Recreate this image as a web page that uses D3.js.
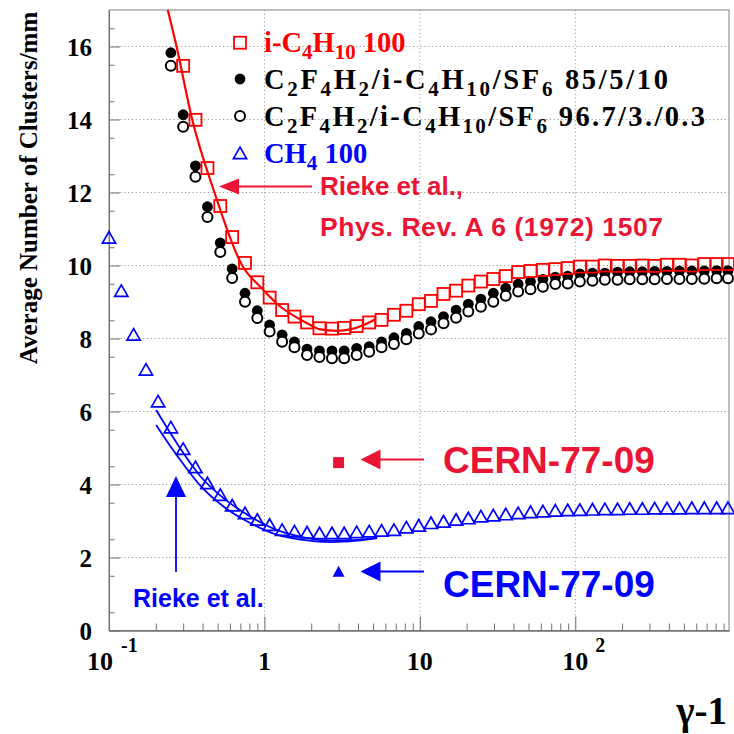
<!DOCTYPE html>
<html lang="en">
  <head>
    <meta charset="UTF-8" />
    <script src="https://d3js.org/d3.v7.min.js"></script>
    <title>Clusters per mm</title>
    <style>
      body { margin: 0; background: #fff; }
      svg { display: block; }
      .serif { font-family: "Liberation Serif", "DejaVu Serif", serif; font-weight: bold; }
      .sans { font-family: "Liberation Sans", Arial, sans-serif; font-weight: bold; }
    </style>
  </head>
  <body>
    <svg width="734" height="734"></svg>
    <script>
      // gamma-1 values of the measured points (same grid for every gas)
      var gammaM1 = [0.10, 0.12, 0.144, 0.173, 0.207,
        0.25, 0.30, 0.36, 0.43, 0.52, 0.62, 0.75, 0.90, 1.08, 1.30,
        1.56, 1.88, 2.26, 2.72, 3.26, 3.92, 4.72, 5.67, 6.81, 8.19,
        9.84, 11.8, 14.2, 17.1, 20.5, 24.7, 29.7, 35.7, 42.9, 51.5,
        61.9, 74.4, 89.4, 107, 129, 155, 187, 224, 270, 324,
        389, 468, 562, 676, 812, 960];

      var iC4H10 = [null, null, null, null, null,
        null, 15.47, 13.99, 12.67, 11.63, 10.78, 10.07, 9.54, 9.12, 8.78,
        8.60, 8.44, 8.28, 8.27, 8.29, 8.34, 8.44, 8.51, 8.65, 8.76,
        8.94, 9.03, 9.22, 9.31, 9.45, 9.56, 9.63, 9.71, 9.82, 9.85,
        9.88, 9.90, 9.93, 9.97, 9.97, 10.0, 9.99, 9.99, 10.0, 9.99,
        10.02, 10.02, 10.0, 10.04, 10.04, 10.04];

      var mix85 = [null, null, null, null, null,
        15.83, 14.13, 12.73, 11.61, 10.62, 9.91, 9.24, 8.76, 8.37, 8.10,
        7.91, 7.71, 7.66, 7.66, 7.66, 7.73, 7.78, 7.91, 8.02, 8.14,
        8.33, 8.46, 8.60, 8.78, 8.94, 9.08, 9.24, 9.38, 9.49, 9.56,
        9.62, 9.68, 9.71, 9.77, 9.79, 9.79, 9.82, 9.83, 9.83, 9.84,
        9.84, 9.85, 9.85, 9.85, 9.86, 9.86];

      var mix96 = [null, null, null, null, null,
        15.47, 13.80, 12.43, 11.33, 10.37, 9.66, 9.01, 8.56, 8.19, 7.91,
        7.76, 7.55, 7.49, 7.46, 7.46, 7.55, 7.64, 7.76, 7.85, 7.98,
        8.14, 8.25, 8.42, 8.57, 8.74, 8.87, 9.01, 9.17, 9.29, 9.35,
        9.42, 9.49, 9.51, 9.56, 9.58, 9.61, 9.61, 9.62, 9.62, 9.62,
        9.63, 9.63, 9.63, 9.64, 9.65, 9.65];

      var ch4 = [10.76, 9.30, 8.10, 7.14, 6.27,
        5.56, 4.97, 4.47, 4.03, 3.71, 3.42, 3.21, 3.03, 2.89, 2.75,
        2.71, 2.68, 2.66, 2.66, 2.66, 2.69, 2.71, 2.73, 2.75, 2.82,
        2.87, 2.94, 2.98, 3.03, 3.07, 3.12, 3.15, 3.18, 3.21, 3.24,
        3.26, 3.28, 3.29, 3.30, 3.31, 3.32, 3.32, 3.33, 3.33, 3.34,
        3.34, 3.34, 3.35, 3.35, 3.35, 3.35];

      // Rieke et al. calculations
      var riekeIsoX = [0.239, 0.272, 0.343, 0.477, 0.719, 0.943, 1.27, 1.58, 1.88, 2.29, 2.93, 3.57, 4.35, 5.17];
      var riekeIsoY = [17.0, 16.0, 14.0, 12.0, 10.0, 9.41, 8.87, 8.60, 8.42, 8.25, 8.21, 8.25, 8.37, 8.53];
      var riekeCh4X = [0.201, 0.249, 0.303, 0.388, 0.548, 0.813, 1.21, 1.79, 2.66, 3.95, 5.31];
      var riekeCh4Hi = [6.04, 5.40, 4.84, 4.22, 3.62, 3.12, 2.75, 2.55, 2.46, 2.48, 2.55];
      var riekeCh4Lo = [5.63, 5.04, 4.54, 3.96, 3.39, 2.94, 2.62, 2.48, 2.42, 2.46, 2.53];

      // CERN-77-09 points
      var cernX = 3.0;
      var cernIso = 4.6;
      var cernCh4 = 1.61;

      var yTicks = [0, 2, 4, 6, 8, 10, 12, 14, 16];
      var xMajor = [0.1, 1, 10, 100];

      var svg = d3.select("svg"),
        margin = { top: 10, right: 5, bottom: 103.5, left: 109 },
        width = +svg.attr("width") - margin.left - margin.right,
        height = +svg.attr("height") - margin.top - margin.bottom;

      var x = d3.scaleLog().domain([0.1, 975]).range([margin.left, margin.left + width]);
      var y = d3.scaleLinear().domain([0, 17]).range([margin.top + height, margin.top]);

      var RED = "#ff0000", BLUE = "#0000ff", ANN_RED = "#ea1535";

      // grid
      var grid = svg.append("g").attr("stroke", "#9a9a9a").attr("stroke-dasharray", "1.2,2.6").attr("stroke-width", 1);
      grid.selectAll("line.h").data(yTicks.slice(1)).enter().append("line")
        .attr("x1", margin.left).attr("x2", margin.left + width)
        .attr("y1", function (d) { return y(d); }).attr("y2", function (d) { return y(d); });
      grid.selectAll("line.v").data(xMajor.slice(1)).enter().append("line")
        .attr("y1", margin.top).attr("y2", margin.top + height)
        .attr("x1", function (d) { return x(d); }).attr("x2", function (d) { return x(d); });

      // frame
      svg.append("rect")
        .attr("x", margin.left).attr("y", margin.top)
        .attr("width", width).attr("height", height)
        .attr("fill", "none").attr("stroke", "#808080").attr("stroke-width", 1);

      // y axis (ticks inside)
      var yAxis = svg.append("g").attr("transform", "translate(" + margin.left + ",0)")
        .call(d3.axisLeft(y).tickValues(yTicks).tickSizeInner(-11).tickSizeOuter(0).tickPadding(17));
      yAxis.selectAll("text").attr("class", "serif").attr("font-size", 25).attr("fill", "#000").attr("dy", "0.36em");
      svg.append("g").attr("transform", "translate(" + margin.left + ",0)")
        .call(d3.axisLeft(y).tickValues(d3.range(0.5, 17.01, 1)).tickSizeInner(-5.5).tickSizeOuter(0).tickFormat(""));
      svg.selectAll(".domain").attr("stroke", "#707070");
      svg.selectAll(".tick line").attr("stroke", "#707070");

      // x axis (log, ticks inside)
      var minor = x.ticks().filter(function (d) { return xMajor.indexOf(d) < 0; });
      svg.append("g").attr("transform", "translate(0," + (margin.top + height) + ")")
        .call(d3.axisBottom(x).tickValues(xMajor).tickSizeInner(-14).tickSizeOuter(0).tickFormat(""))
        .selectAll("line, path").attr("stroke", "#707070");
      svg.append("g").attr("transform", "translate(0," + (margin.top + height) + ")")
        .call(d3.axisBottom(x).tickValues(minor).tickSizeInner(-7).tickSizeOuter(0).tickFormat(""))
        .selectAll("line, path").attr("stroke", "#707070");

      // x tick labels
      var xl = svg.append("g").attr("class", "serif").attr("font-size", 26).attr("fill", "#000");
      xl.append("text").attr("x", x(0.1) - 9).attr("y", 670).attr("text-anchor", "middle").text("10");
      xl.append("text").attr("x", x(0.1) + 12).attr("y", 652).attr("font-size", 20).attr("text-anchor", "start").text("-1");
      xl.append("text").attr("x", x(1)).attr("y", 670).attr("text-anchor", "middle").text("1");
      xl.append("text").attr("x", x(10)).attr("y", 670).attr("text-anchor", "middle").text("10");
      xl.append("text").attr("x", x(100)).attr("y", 670).attr("text-anchor", "middle").text("10");
      xl.append("text").attr("x", x(100) + 20).attr("y", 652).attr("font-size", 20).attr("text-anchor", "start").text("2");

      // axis titles
      svg.append("text").attr("class", "serif").attr("font-size", 25)
        .attr("transform", "translate(37,188) rotate(-90)")
        .attr("text-anchor", "middle").text("Average Number of Clusters/mm");
      svg.append("text").attr("class", "serif").attr("font-size", 39)
        .attr("x", 727).attr("y", 724).attr("text-anchor", "end").text("γ-1");

      function pts(ys) {
        return gammaM1.map(function (g, i) { return { x: g, y: ys[i] }; })
          .filter(function (d) { return d.y !== null; });
      }

      var line = d3.line()
        .x(function (d) { return x(d[0]); })
        .y(function (d) { return y(d[1]); })
        .curve(d3.curveMonotoneX);

      // CH4 triangles
      var tri = "M0,-6.2L6.6,5.3L-6.6,5.3Z";
      svg.append("g").selectAll("path").data(pts(ch4)).enter().append("path")
        .attr("d", tri)
        .attr("transform", function (d) { return "translate(" + x(d.x) + "," + y(d.y) + ")"; })
        .attr("fill", "none").attr("stroke", BLUE).attr("stroke-width", 1.7);

      // mixture 85/5/10 (filled circles)
      svg.append("g").selectAll("circle").data(pts(mix85)).enter().append("circle")
        .attr("cx", function (d) { return x(d.x); })
        .attr("cy", function (d) { return y(d.y); })
        .attr("r", 5.4).attr("fill", "#000");

      // mixture 96.7/3/0.3 (open circles)
      svg.append("g").selectAll("circle").data(pts(mix96)).enter().append("circle")
        .attr("cx", function (d) { return x(d.x); })
        .attr("cy", function (d) { return y(d.y); })
        .attr("r", 5.0).attr("fill", "#fff").attr("stroke", "#000").attr("stroke-width", 2);

      // i-C4H10 open squares
      svg.append("g").selectAll("rect").data(pts(iC4H10)).enter().append("rect")
        .attr("x", function (d) { return x(d.x) - 6; })
        .attr("y", function (d) { return y(d.y) - 6; })
        .attr("width", 12).attr("height", 12)
        .attr("fill", "none").attr("stroke", RED).attr("stroke-width", 1.8);

      // Rieke curves
      svg.append("path").datum(d3.zip(riekeIsoX, riekeIsoY)).attr("d", line)
        .attr("fill", "none").attr("stroke", RED).attr("stroke-width", 2.2);
      svg.append("path").datum(d3.zip(riekeCh4X, riekeCh4Hi)).attr("d", line)
        .attr("fill", "none").attr("stroke", BLUE).attr("stroke-width", 1.8);
      svg.append("path").datum(d3.zip(riekeCh4X, riekeCh4Lo)).attr("d", line)
        .attr("fill", "none").attr("stroke", BLUE).attr("stroke-width", 1.8);

      // CERN-77-09 points
      svg.append("rect")
        .attr("x", x(cernX) - 5.5).attr("y", y(cernIso) - 5.5)
        .attr("width", 11).attr("height", 11).attr("fill", ANN_RED);
      svg.append("path").attr("d", "M0,-6L6,5L-6,5Z")
        .attr("transform", "translate(" + x(cernX) + "," + y(cernCh4) + ")")
        .attr("fill", BLUE);

      // annotation arrows
      function hArrow(x1, x2, yy, col, len, hw) {
        svg.append("line").attr("x1", x1 + len - 2).attr("x2", x2).attr("y1", yy).attr("y2", yy)
          .attr("stroke", col).attr("stroke-width", 1.8);
        svg.append("path")
          .attr("d", "M" + x1 + "," + yy + "L" + (x1 + len) + "," + (yy - hw) + "L" + (x1 + len) + "," + (yy + hw) + "Z")
          .attr("fill", col);
      }
      hArrow(219, 312, 186.5, ANN_RED, 20, 8);
      hArrow(360.5, 424, 459.5, ANN_RED, 20, 10);
      hArrow(360.5, 424, 571.5, BLUE, 20, 10);
      svg.append("line").attr("x1", 176).attr("x2", 176).attr("y1", 494).attr("y2", 572)
        .attr("stroke", BLUE).attr("stroke-width", 1.8);
      svg.append("path").attr("d", "M176,476L186,497L166,497Z").attr("fill", BLUE);

      // annotation texts
      svg.append("text").attr("class", "sans").attr("font-size", 26).attr("fill", ANN_RED)
        .attr("x", 320).attr("y", 195).text("Rieke et al.,");
      svg.append("text").attr("class", "sans").attr("font-size", 26.5).attr("fill", ANN_RED)
        .attr("x", 320).attr("y", 236).attr("textLength", 343).attr("lengthAdjust", "spacing")
        .text("Phys. Rev. A 6 (1972) 1507");
      svg.append("text").attr("class", "sans").attr("font-size", 25).attr("fill", BLUE)
        .attr("x", 133).attr("y", 607).text("Rieke et al.");
      svg.append("text").attr("class", "sans").attr("font-size", 37).attr("fill", ANN_RED)
        .attr("x", 443).attr("y", 473).text("CERN-77-09");
      svg.append("text").attr("class", "sans").attr("font-size", 37).attr("fill", BLUE)
        .attr("x", 443).attr("y", 597).text("CERN-77-09");

      // legend
      var legend = svg.append("g");
      var rowY = [42.7, 79, 116, 153.3];
      var rowLen = [null, 404, 441, null];
      legend.append("rect").attr("x", 240 - 6).attr("y", rowY[0] - 6).attr("width", 12).attr("height", 12)
        .attr("fill", "none").attr("stroke", RED).attr("stroke-width", 1.8);
      legend.append("circle").attr("cx", 240).attr("cy", rowY[1]).attr("r", 5.4).attr("fill", "#000");
      legend.append("circle").attr("cx", 240).attr("cy", rowY[2]).attr("r", 5.0)
        .attr("fill", "#fff").attr("stroke", "#000").attr("stroke-width", 2);
      legend.append("path").attr("d", tri).attr("transform", "translate(240," + rowY[3] + ")")
        .attr("fill", "none").attr("stroke", BLUE).attr("stroke-width", 1.7);

      // text pieces: [string, isSubscript]
      var entries = [
        { col: RED, parts: [["i-C", 0], ["4", 1], ["H", 0], ["10", 1], [" 100", 0]] },
        { col: "#000", parts: [["C", 0], ["2", 1], ["F", 0], ["4", 1], ["H", 0], ["2", 1], ["/i-C", 0], ["4", 1], ["H", 0], ["10", 1], ["/SF", 0], ["6", 1], [" 85/5/10", 0]] },
        { col: "#000", parts: [["C", 0], ["2", 1], ["F", 0], ["4", 1], ["H", 0], ["2", 1], ["/i-C", 0], ["4", 1], ["H", 0], ["10", 1], ["/SF", 0], ["6", 1], [" 96.7/3./0.3", 0]] },
        { col: BLUE, parts: [["CH", 0], ["4", 1], [" 100", 0]] }
      ];
      entries.forEach(function (e, i) {
        var t = legend.append("text").attr("class", "serif").attr("font-size", 28.5)
          .attr("fill", e.col).attr("x", 264).attr("y", rowY[i] + 9.5).attr("xml:space", "preserve");
        if (rowLen[i]) t.attr("textLength", rowLen[i]).attr("lengthAdjust", "spacing");
        var prevSub = 0;
        e.parts.forEach(function (p) {
          var dy = p[1] === prevSub ? 0 : (p[1] ? 7 : -7);
          t.append("tspan").attr("dy", dy).attr("font-size", p[1] ? 21 : 28.5).text(p[0]);
          prevSub = p[1];
        });
      });
    </script>
  </body>
</html>
